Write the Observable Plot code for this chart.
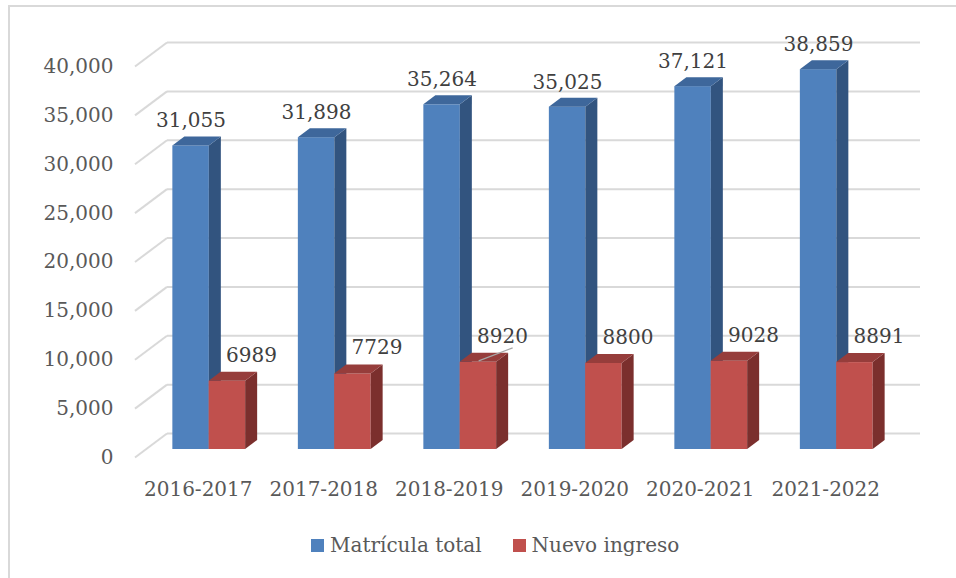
<!DOCTYPE html>
<html>
<head>
<meta charset="utf-8">
<script src="https://cdn.jsdelivr.net/npm/d3@7"></script>
<script src="https://cdn.jsdelivr.net/npm/@observablehq/plot@0.6"></script>
<style>
  html, body { margin: 0; padding: 0; background: #fff; overflow: hidden; }
  #wrap { position: relative; width: 956px; height: 578px; font-family: "DejaVu Serif", serif; overflow: hidden; }
  #frame { position: absolute; left: 8px; top: 5px; width: 1100px; height: 800px; border: 2px solid #d9d9d9; box-sizing: border-box; }
  #chart { position: absolute; left: 0; top: 0; }
  #legend { position: absolute; left: 311px; top: 533px; display: flex; align-items: center; font-size: 20px; color: #595959; white-space: nowrap; }
  #legend .item { display: flex; align-items: center; }
  #legend .sw { width: 13px; height: 13px; margin-right: 6px; }
  #legend .item + .item { margin-left: 31px; }
</style>
</head>
<body>
<div id="wrap">
  <div id="frame"></div>
  <div id="chart"></div>
  <div id="legend"></div>
</div>
<script>
// ---- data ----
const categories = ["2016-2017", "2017-2018", "2018-2019", "2019-2020", "2020-2021", "2021-2022"];
const matriculaTotal = [31055, 31898, 35264, 35025, 37121, 38859];
const nuevoIngreso = [6989, 7729, 8920, 8800, 9028, 8891];
const yTicks = [0, 5000, 10000, 15000, 20000, 25000, 30000, 35000, 40000];
const seriesNames = ["Matrícula total", "Nuevo ingreso"];
const leaderCategory = "2018-2019"; // the label drawn with a leader line in the original

// ---- styles ----
const colors = {
  blue: { front: "#4f81bd", side: "#32547f", top: "#3e679b" },
  red:  { front: "#c0504d", side: "#7b2f2d", top: "#963d3b" }
};
const depthX = 12, depthY = 9;       // bar depth in px
const barOffX = 11, barOffY = -8;    // bar front plane vs. floor front
const wallX = 32, wallY = -24;       // back wall offset

const blueRows = categories.map((c, i) => ({cat: c, value: matriculaTotal[i]}));
const redRows = categories.map((c, i) => ({cat: c, value: nuevoIngreso[i]}));

const fmt = d3.format(",");

const plot = Plot.plot({
  width: 956,
  height: 578,
  marginLeft: 135,
  marginRight: 68,
  marginTop: 66,
  marginBottom: 121,
  style: { fontFamily: "DejaVu Serif, serif", fontSize: "20px", color: "#595959", background: "transparent", overflow: "visible" },
  x: { domain: categories, paddingInner: 0.42, paddingOuter: 0.21, round: false, label: null },
  y: { domain: [0, 40000], label: null },
  marks: [
    Plot.ruleY(yTicks, { stroke: "#d9d9d9", strokeWidth: 2, dx: wallX, dy: wallY, className: "grid3d" }),
    Plot.axisY(yTicks, { tickSize: 0, tickPadding: 22, tickFormat: fmt, fontSize: 20, label: null }),
    Plot.axisX({ tickSize: 0, tickPadding: 24, fontSize: 20, label: null }),
    Plot.barY(blueRows, { x: "cat", y: "value", fill: colors.blue.front, insetRight: 36.3, dx: barOffX, dy: barOffY, className: "bar-blue" }),
    Plot.barY(redRows, { x: "cat", y: "value", fill: colors.red.front, insetLeft: 36.3, dx: barOffX, dy: barOffY, className: "bar-red" }),
    Plot.text(blueRows, { x: "cat", y: "value", text: d => fmt(d.value), dx: barOffX - 18.2, dy: -33, fontSize: 20, fill: "#404040" }),
    Plot.text(redRows, { x: "cat", y: "value", text: d => String(d.value), dx: barOffX + 18.2 + 24, dy: -34, fontSize: 20, fill: "#404040" })
  ]
});

document.getElementById("chart").appendChild(plot);

const svg = d3.select(plot);
const ns = "http://www.w3.org/2000/svg";

// perspective: slanted floor/side segments of gridlines
svg.selectAll("g.grid3d").each(function() {
  const g = d3.select(this);
  g.selectAll("line").each(function() {
    const l = d3.select(this);
    const x1 = +l.attr("x1"), y1 = +l.attr("y1");
    g.append("line")
      .attr("x1", x1 - wallX).attr("y1", y1 - wallY)
      .attr("x2", x1).attr("y2", y1)
      .attr("stroke", "#d9d9d9").attr("stroke-width", 2);
  });
});

// 3D faces of bars
function extrude(cls, pal, rows, leader) {
  svg.selectAll("g." + cls).each(function() {
    const g = d3.select(this);
    const rects = g.selectAll("rect").nodes();
    rects.forEach((node, i) => {
      const r = d3.select(node);
      const x = +r.attr("x"), y = +r.attr("y"), w = +r.attr("width"), h = +r.attr("height");
      const side = [[x + w, y], [x + w + depthX, y - depthY], [x + w + depthX, y + h - depthY], [x + w, y + h]];
      const top = [[x, y], [x + depthX, y - depthY], [x + w + depthX, y - depthY], [x + w, y]];
      const parent = node.parentNode;
      const ps = document.createElementNS(ns, "polygon");
      ps.setAttribute("points", side.map(p => p.join(",")).join(" "));
      ps.setAttribute("fill", pal.side);
      const pt = document.createElementNS(ns, "polygon");
      pt.setAttribute("points", top.map(p => p.join(",")).join(" "));
      pt.setAttribute("fill", pal.top);
      parent.insertBefore(pt, node.nextSibling);
      parent.insertBefore(ps, node.nextSibling);
      if (leader && rows[i] && rows[i].cat === leader) {
        const ln = document.createElementNS(ns, "line");
        ln.setAttribute("x1", x + 19); ln.setAttribute("y1", y - 1);
        ln.setAttribute("x2", x + 53); ln.setAttribute("y2", y - 14);
        ln.setAttribute("stroke", "#a6a6a6"); ln.setAttribute("stroke-width", 1.3);
        parent.appendChild(ln);
      }
    });
  });
}
extrude("bar-blue", colors.blue, blueRows, null);
extrude("bar-red", colors.red, redRows, leaderCategory);

// legend
const legend = d3.select("#legend");
[[seriesNames[0], colors.blue.front], [seriesNames[1], colors.red.front]].forEach(([name, c]) => {
  const item = legend.append("div").attr("class", "item");
  item.append("div").attr("class", "sw").style("background", c);
  item.append("span").text(name);
});
</script>
</body>
</html>
